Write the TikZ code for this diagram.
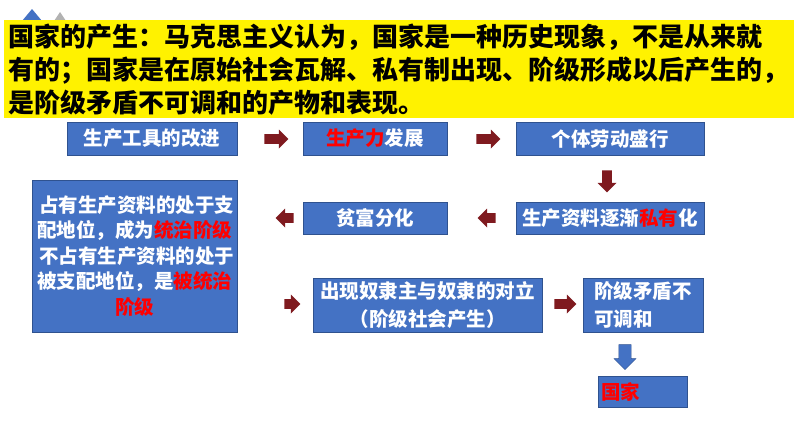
\documentclass[tikz,border=0pt]{standalone}
\usepackage{fontspec}
\setmainfont{Noto Sans CJK SC}
\usetikzlibrary{shapes.arrows}
\definecolor{bx}{HTML}{4472C4}
\definecolor{bxe}{HTML}{2F528F}
\definecolor{ar}{HTML}{7F1A1F}
\tikzset{
 box/.style={draw=bxe,line width=0.8pt,fill=bx,text=white,font=\bfseries\fontsize{19.5}{23}\selectfont,inner sep=2pt},
 rarr/.style={single arrow,fill=ar,draw=none,minimum height=#1,minimum width=19pt,inner sep=4.5pt,single arrow head extend=4.5pt}
}
\newcommand{\rd}[1]{\textcolor{red}{#1}}
\begin{document}
\begin{tikzpicture}[x=1pt,y=-1pt]
\useasboundingbox (0,0) rectangle (794,447);
\fill[bx] (32,9) -- (42,21) -- (22,21) -- cycle;
\fill[gray!60] (60,12) -- (66,21) -- (54,21) -- cycle;
\node[fill=yellow,minimum width=790pt,minimum height=98pt,anchor=north west,inner sep=0pt] (ban) at (4,20) {};
\node[anchor=north west,align=left,font=\bfseries\fontsize{26}{33}\selectfont,inner sep=0pt] (bt) at (8,24)
 {国家的产生：马克思主义认为，国家是一种历史现象，不是从来就\\有的；国家是在原始社会瓦解、私有制出现、阶级形成以后产生的，\\是阶级矛盾不可调和的产物和表现。};
% row1
\node[box,minimum width=170pt,minimum height=33pt] (b1) at (152,138.5) {生产工具的改进};
\node[box,minimum width=144pt,minimum height=33pt] (b2) at (375,138.5) {\rd{生产力}发展};
\node[box,minimum width=188pt,minimum height=33pt] (b3) at (610,138.5) {个体劳动盛行};
\node[rarr=24pt] (a1) at (274,139) {};
\node[rarr=24pt] (a2) at (486,139) {};
\node[rarr=22pt,shape border rotate=270] (a3) at (607,179) {};
% row2
\node[box,minimum width=188pt,minimum height=32pt] (b4) at (610,218) {生产资料逐渐\rd{私有}化};
\node[box,minimum width=144pt,minimum height=32pt] (b5) at (375,218) {贫富分化};
\node[rarr=18pt,shape border rotate=180] (a4) at (489,218) {};
\node[rarr=18pt,shape border rotate=180] (a5) at (287,218) {};
\node[box,minimum width=205pt,minimum height=152pt,align=center,font=\bfseries\fontsize{19.5}{25.5}\selectfont] (b6) at (134.5,256)
 {\ 占有生产资料的处于支\\配地位，成为\rd{统治阶级}\\\ 不占有生产资料的处于\\被支配地位，是\rd{被统治}\\\rd{阶级}};
% row3
\node[rarr=16pt] (a6) at (290,304) {};
\node[box,minimum width=229pt,minimum height=54pt,align=center,font=\bfseries\fontsize{19.5}{28}\selectfont] (b7) at (427.5,305) {出现奴隶主与奴隶的对立\\（阶级社会产生）};
\node[rarr=22pt] (a7) at (563,304) {};
\node[box,minimum width=120pt,minimum height=54pt,align=left,font=\bfseries\fontsize{19.5}{28}\selectfont] (b8) at (643,305) {阶级矛盾不\\可调和\hspace{20pt}};
\node[single arrow,shape border rotate=270,fill=bx,draw=bxe,minimum height=25pt,minimum width=22pt,single arrow head extend=4pt,inner sep=5pt] (a8) at (625,354) {};
\node[box,minimum width=89pt,minimum height=31pt,anchor=west,text width=83pt] (b9) at (598,391.5) {\rd{国家}};
\end{tikzpicture}
\end{document}
